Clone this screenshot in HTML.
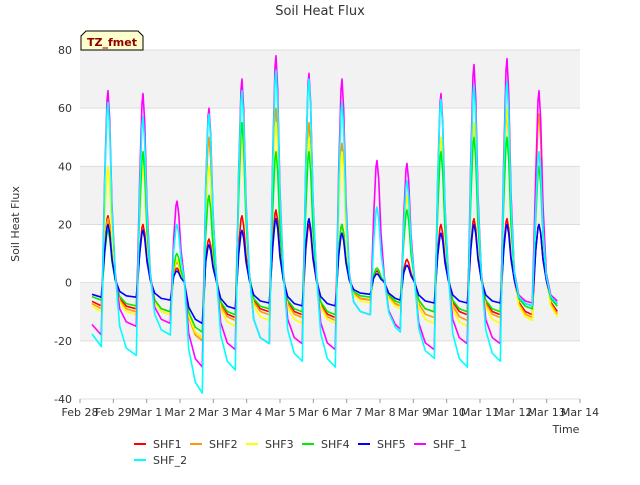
<!DOCTYPE html>
<html><head><meta charset="utf-8"><style>
body{margin:0;background:#fff;font-family:"Liberation Sans",sans-serif;}
text{font-family:"DejaVu Sans","Liberation Sans",sans-serif;}
</style></head><body>
<svg id="chart" width="640" height="480" xmlns="http://www.w3.org/2000/svg">
<g id="grid"></g>
<g id="series"></g>
<g id="axes"></g>
<text x="320" y="15" text-anchor="middle" font-size="13" fill="#333">Soil Heat Flux</text>
<text x="19" y="224" text-anchor="middle" font-size="11" fill="#333" transform="rotate(-90 19 224)">Soil Heat Flux</text>
<text x="566" y="433" text-anchor="middle" font-size="11" fill="#333">Time</text>
<g>
<path d="M81,50 L81,36 L86,31 L138,31 L143,36 L143,50 Z" fill="#ffffcc" stroke="#000" stroke-width="1"/>
<text x="112" y="46" text-anchor="middle" font-size="11" font-weight="bold" fill="#8b0000">TZ_fmet</text>
</g>
<g id="legend"></g>
</svg>
<script>
const dates=["Feb 28","Feb 29","Mar 1","Mar 2","Mar 3","Mar 4","Mar 5","Mar 6","Mar 7","Mar 8","Mar 9","Mar 10","Mar 11","Mar 12","Mar 13","Mar 14"];
const yTicks=[-40,-20,0,20,40,60,80];
const names=["SHF1","SHF2","SHF3","SHF4","SHF5","SHF_1","SHF_2"];
const colors=["#ff0000","#ff9900","#ffff00","#00ee00","#0000ff","#ff00ff","#00ffff"];
const peakDay=[0.84,1.89,2.91,3.87,4.86,5.88,6.87,7.86,8.91,9.81,10.83,11.82,12.81,13.77];
const shf1P=[23,20,5,15,23,25,20,20,4,8,20,22,22,20];
const shf1T=[-8,-9,-10,-19,-12,-10,-11,-12,-6,-8,-10,-11,-11,-11];
const shf2P=[22,45,7,50,55,60,55,48,5,30,50,55,58,58];
const shf2T=[-9,-10,-11,-20,-13,-11,-12,-13,-6,-8,-12,-13,-12,-12];
const shf3P=[40,40,8,40,50,55,50,45,5,30,50,55,60,45];
const shf3T=[-10,-11,-11,-19,-15,-13,-14,-14,-7,-9,-14,-15,-14,-13];
const shf4P=[18,45,10,30,55,45,45,20,5,25,45,50,50,40];
const shf4T=[-6,-8,-10,-17,-11,-9,-10,-11,-5,-7,-10,-10,-10,-9];
const shf5P=[20,18,4,13,18,22,22,17,3,6,17,20,20,20];
const shf5T=[-5,-5,-6,-14,-9,-7,-8,-8,-4,-6,-7,-7,-7,-8];
const shfA1P=[66,65,28,60,70,78,72,70,42,41,65,75,77,66];
const shfA1T=[-18,-15,-14,-29,-23,-21,-21,-23,-11,-16,-23,-21,-21,-7];
const shfA2P=[62,57,20,58,66,73,70,62,26,35,63,68,69,45];
const shfA2T=[-22,-25,-18,-38,-30,-21,-27,-29,-11,-17,-26,-29,-27,-8];
const peaks=[shf1P,shf2P,shf3P,shf4P,shf5P,shfA1P,shfA2P];
const troughs=[shf1T,shf2T,shf3T,shf4T,shf5T,shfA1T,shfA2T];

const X0=80,X1=580,Y0=50,Y1=399;
const xs=d=>X0+d*(X1-X0)/15;
const ys=v=>Y1-(v+40)*(Y1-Y0)/120;
const NS="http://www.w3.org/2000/svg";
function mk(tag,attrs,parent){const e=document.createElementNS(NS,tag);for(const k in attrs)e.setAttribute(k,attrs[k]);parent.appendChild(e);return e;}
const grid=document.getElementById('grid'),axes=document.getElementById('axes');
for(let i=0;i<yTicks.length-1;i++){
 if(i%2===1){const r=mk('rect',{x:X0,y:ys(yTicks[i+1]),width:X1-X0,height:ys(yTicks[i])-ys(yTicks[i+1]),fill:'#f2f2f2'},grid);
 
 }
}
yTicks.forEach(v=>{
 const l=mk('line',{x1:X0,x2:X1,y1:ys(v),y2:ys(v),stroke:'#dddddd','stroke-width':1},grid);
 
 
 const t=mk('text',{x:X0-8,y:ys(v)+4,'text-anchor':'end','font-size':11,fill:'#333'},axes);
 t.textContent=v;
 
 
});
dates.forEach((d,i)=>{
 const t=mk('text',{x:xs(i),y:416,'text-anchor':'middle','font-size':11,fill:'#333'},axes);
 t.textContent=d;
 
 
 const tk=mk('line',{x1:xs(i),x2:xs(i),y1:Y1,y2:Y1+4,stroke:'#999'},axes);
 
 
});
const sg=document.getElementById('series');
names.forEach((n,s)=>{
 const P=peaks[s],T=troughs[s];let pts=[];
 pts.push([0.36,T[0]*0.8]);
 for(let k=0;k<P.length;k++){
  const pd=peakDay[k];
  pts.push([pd-0.2,T[k]]);
  pts.push([pd-0.1,P[k]*0.55]);
  pts.push([pd-0.03,P[k]*0.95]);
  pts.push([pd,P[k]]);
  pts.push([pd+0.05,P[k]*0.85]);
  pts.push([pd+0.12,P[k]*0.4]);
  pts.push([pd+0.22,P[k]*0.05]);
  const nt=k+1<T.length?T[k+1]:T[k];
  pts.push([pd+0.35,nt*0.6]);
  pts.push([pd+0.55,nt*0.9]);
 }
 pts=pts.filter(p=>p[0]<=14.35);
 const d=pts.map((p,i)=>(i?'L':'M')+xs(p[0]).toFixed(1)+','+ys(p[1]).toFixed(1)).join(' ');
 const path=mk('path',{d:d,fill:'none',stroke:colors[s],'stroke-width':1.6,'stroke-linejoin':'round'},sg);
 
 
});
const lg=document.getElementById('legend');
names.forEach((n,s)=>{
 const row=s<6?0:1,col=s<6?s:0;
 const x=134+col*56,y=444+row*16;
 const g=mk('g',{},lg);
 
 
 mk('line',{x1:x,x2:x+12,y1:y,y2:y,stroke:colors[s],'stroke-width':2},g);
 const t=mk('text',{x:x+19,y:y+4,'font-size':11,fill:'#333'},g);
 t.textContent=n;
});
</script>
</body></html>
